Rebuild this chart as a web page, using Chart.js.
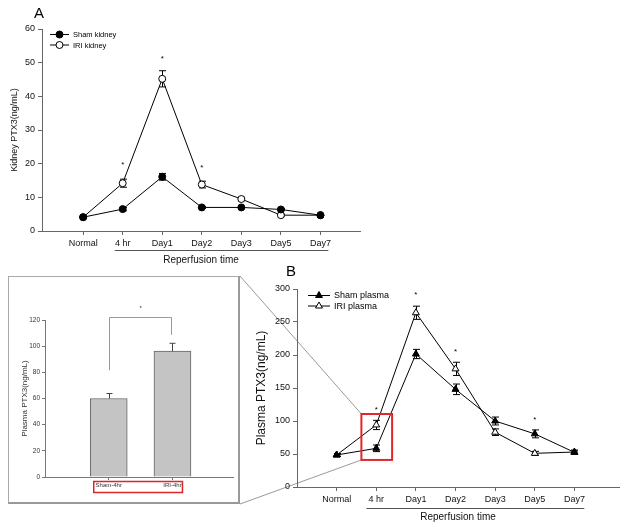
<!DOCTYPE html>
<html lang="en">
<head>
  <meta charset="UTF-8" />
  <title>PTX3 kidney / plasma</title>
  <script src="https://cdn.jsdelivr.net/npm/chart.js"></script>
  <style>
    body {
      margin: 0;
      background: #fff;
      font-family: "Liberation Sans", Arial, sans-serif;
    }
    #page {
      position: relative;
      width: 624px;
      height: 527px;
      overflow: hidden;
    }
    canvas, .box, .lbl { position: absolute; }
    #chartA { left: 0; top: 0; }
    #chartB { left: 240px; top: 258px; }
    #inset { left: 8px; top: 276px; }
    .box {
      left: 8px; top: 276px;
      width: 232px; height: 228px;
      box-sizing: border-box;
      border: 1px solid #aaa;
      border-right: 2px solid #999;
      border-bottom: 2px solid #999;
    }
    .lbl { font-size: 15px; color: #000; }
  </style>
</head>
<body>
<div id="page">
  <div class="box"></div>
  <canvas id="inset" width="232" height="228"></canvas>
  <canvas id="chartA" width="370" height="270"></canvas>
  <canvas id="chartB" width="384" height="269"></canvas>
  <div class="lbl" style="left:34px; top:4px;">A</div>
  <div class="lbl" style="left:286px; top:262px;">B</div>
</div>

<script>
  // ---- data ----
  const categories = ['Normal', '4 hr', 'Day1', 'Day2', 'Day3', 'Day5', 'Day7'];

  const shamKidney    = [4.1, 6.5, 16.1, 7.0, 7.0, 6.4, 4.7];
  const shamKidneyErr = [0.3, 0.5, 1.0, 0.3, 0.3, 0.3, 0.3];
  const iriKidney     = [4.1, 14.2, 45.2, 13.8, 9.5, 4.7, 4.7];
  const iriKidneyErr  = [0.3, 1.2, 2.4, 1.0, 0.5, 0.3, 0.5];
  const kidneyStarIdx = [1, 2, 3];
  const kidneyStarVal = [20, 51.7, 19.3];

  const shamPlasma    = [48.5, 58.6, 201.5, 148, 100, 80.5, 52.5];
  const shamPlasmaErr = [2, 5, 7, 8, 6, 6, 2];
  const iriPlasma     = [48.5, 94, 264, 179, 83, 51, 53];
  const iriPlasmaErr  = [2, 7, 10, 10, 5, 3, 3];
  const plasmaStarIdx = [1, 2, 3, 5];
  const plasmaStarVal = [119, 294, 207, 104];

  const insetLabels = ['Sham-4hr', 'IRI-4hr'];
  const insetValues = [60, 96.2];
  const insetErr    = [3.8, 6];
  const insetBracket = { top: 122, left: 81.6, right: 108.7, star: 129.6 };

  const axisColor = '#666';
  const FONT = '"Liberation Sans", Arial, sans-serif';

  const toXY = arr => arr.map((v, i) => ({ x: i, y: v }));

  // ---- plugins ----
  const errorBars = {
    id: 'errorBars',
    beforeDatasetsDraw(chart) { drawErrors(chart, false); },
    afterDatasetsDraw(chart) { drawErrors(chart, true); }
  };
  function drawErrors(chart, after) {
    const ctx = chart.ctx, ys = chart.scales.y;
    chart.data.datasets.forEach((ds, di) => {
      if (!ds.errors || !!ds.errorsOnTop !== after) return;
      const meta = chart.getDatasetMeta(di);
      ctx.save();
      ctx.strokeStyle = ds.errorColor || '#000';
      ctx.lineWidth = 1;
      meta.data.forEach((el, i) => {
        const v = ds.data[i].y, e = ds.errors[i];
        const yt = ys.getPixelForValue(v + e);
        const yb = ds.errorsOnTop ? ys.getPixelForValue(v) : ys.getPixelForValue(v - e);
        const x = Math.round(el.x) + 0.5, cap = ds.capWidth || 3.5;
        ctx.beginPath();
        ctx.moveTo(x, yt); ctx.lineTo(x, yb);
        ctx.moveTo(x - cap, yt); ctx.lineTo(x + cap, yt);
        if (!ds.errorsOnTop) { ctx.moveTo(x - cap, yb); ctx.lineTo(x + cap, yb); }
        ctx.stroke();
      });
      ctx.restore();
    });
  }

  function drawLegend(chart, x0, y0, dy, lineLen, fontSize) {
    const ctx = chart.ctx;
    ctx.save();
    chart.data.datasets.forEach((ds, i) => {
      const y = y0 + i * dy;
      ctx.strokeStyle = '#000'; ctx.lineWidth = 1;
      ctx.beginPath(); ctx.moveTo(x0, y + 0.5); ctx.lineTo(x0 + lineLen, y + 0.5); ctx.stroke();
      ctx.fillStyle = ds.pointBackgroundColor; ctx.strokeStyle = '#000';
      Chart.helpers.drawPoint(ctx, { pointStyle: ds.pointStyle, radius: ds.pointRadius, borderWidth: 1, rotation: 0 },
        x0 + lineLen / 2, y + 0.5);
      ctx.fillStyle = '#000';
      ctx.font = fontSize + 'px ' + FONT;
      ctx.textBaseline = 'middle';
      ctx.fillText(ds.label, x0 + lineLen + 4, y + 1);
    });
    ctx.restore();
  }

  function drawStars(chart, idx, vals, size) {
    const ctx = chart.ctx, xs = chart.scales.x, ys = chart.scales.y;
    ctx.save();
    ctx.fillStyle = '#000';
    ctx.font = size + 'px ' + FONT;
    ctx.textAlign = 'center';
    ctx.textBaseline = 'middle';
    idx.forEach((k, i) => ctx.fillText('*', xs.getPixelForValue(k), ys.getPixelForValue(vals[i]) + size * 0.2));
    ctx.restore();
  }

  function drawUnderline(chart, from, to, gap) {
    const ctx = chart.ctx, xs = chart.scales.x;
    const y = Math.round(chart.chartArea.bottom + gap) + 0.5;
    ctx.save();
    ctx.strokeStyle = '#555'; ctx.lineWidth = 1;
    ctx.beginPath();
    ctx.moveTo(xs.getPixelForValue(from), y);
    ctx.lineTo(xs.getPixelForValue(to), y);
    ctx.stroke();
    ctx.restore();
  }

  function lineDataset(label, values, errors, style, fill, radius) {
    return {
      label: label,
      data: toXY(values),
      errors: errors,
      borderColor: '#000',
      borderWidth: 1,
      pointStyle: style,
      pointRadius: radius,
      pointBorderWidth: 1,
      pointBorderColor: '#000',
      pointBackgroundColor: fill,
      tension: 0
    };
  }

  function catAxis(min, max, h) {
    return {
      type: 'linear', min: min, max: max,
      afterBuildTicks: a => { a.ticks = categories.map((c, i) => ({ value: i })); },
      afterFit: a => { a.height = h; },
      ticks: {
        autoSkip: false, maxRotation: 0, padding: 3,
        color: '#111', font: { family: FONT, size: 9 },
        callback: v => categories[v]
      },
      grid: { display: true, drawOnChartArea: false, drawTicks: true, tickLength: 4, color: axisColor },
      border: { display: true, color: axisColor },
      title: { display: true, text: 'Reperfusion time', color: '#111', font: { family: FONT, size: 10 }, padding: { top: 4, bottom: 4 } }
    };
  }

  function valAxis(min, max, step, w, title, titleSize, titlePad) {
    return {
      min: min, max: max,
      afterFit: a => { a.width = w; },
      ticks: { stepSize: step, padding: 3, color: '#111', font: { family: FONT, size: 9 } },
      grid: { display: true, drawOnChartArea: false, drawTicks: true, tickLength: 4, color: axisColor },
      border: { display: true, color: axisColor },
      title: { display: true, text: title, color: '#111', font: { family: FONT, size: titleSize }, padding: { top: titlePad, bottom: 0 } }
    };
  }

  // ---- chart A: kidney ----
  new Chart(document.getElementById('chartA'), {
    type: 'line',
    data: {
      datasets: [
        lineDataset('Sham kidney', shamKidney, shamKidneyErr, 'circle', '#000', 3.5),
        lineDataset('IRI kidney', iriKidney, iriKidneyErr, 'circle', '#fff', 3.5)
      ]
    },
    options: {
      responsive: false,
      animation: false,
      layout: { padding: { top: 29, right: 10, left: 0, bottom: 0 } },
      plugins: { legend: { display: false }, tooltip: { enabled: false } },
      scales: {
        x: catAxis(-1.04, 7.0, 39),
        y: valAxis(0, 60, 10, 42, 'Kidney PTX3(ng/mL)', 9, 9)
      }
    },
    plugins: [errorBars, {
      id: 'extrasA',
      afterDraw(chart) {
        drawLegend(chart, 50, 34, 10.5, 19, 7.5);
        drawStars(chart, kidneyStarIdx, kidneyStarVal, 8);
        drawUnderline(chart, 0.8, 6.2, 19);
      }
    }]
  });

  // ---- chart B: plasma ----
  const insetTop = 276, insetBottom = 504, chartBTop = 258;
  new Chart(document.getElementById('chartB'), {
    type: 'line',
    data: {
      datasets: [
        lineDataset('Sham plasma', shamPlasma, shamPlasmaErr, 'triangle', '#000', 4),
        lineDataset('IRI plasma', iriPlasma, iriPlasmaErr, 'triangle', '#fff', 4)
      ]
    },
    options: {
      responsive: false,
      animation: false,
      layout: { padding: { top: 31, right: 2, left: 0, bottom: 0 } },
      plugins: { legend: { display: false }, tooltip: { enabled: false } },
      scales: {
        x: catAxis(-1, 7.125, 40),
        y: valAxis(0, 300, 50, 57, 'Plasma PTX3(ng/mL)', 12, 14)
      }
    },
    plugins: [errorBars, {
      id: 'extrasB',
      beforeDraw(chart) {
        // zoom lines from the inset box to the red frame
        const ctx = chart.ctx, xs = chart.scales.x, ys = chart.scales.y;
        const bx = xs.getPixelForValue(0.625);
        ctx.save();
        ctx.strokeStyle = '#9a9a9a'; ctx.lineWidth = 1;
        ctx.beginPath();
        ctx.moveTo(0, insetTop - chartBTop); ctx.lineTo(bx, ys.getPixelForValue(110.6));
        ctx.moveTo(0, insetBottom - chartBTop); ctx.lineTo(bx, ys.getPixelForValue(41));
        ctx.stroke();
        ctx.restore();
      },
      afterDraw(chart) {
        const ctx = chart.ctx, xs = chart.scales.x, ys = chart.scales.y;
        const x1 = xs.getPixelForValue(0.625), x2 = xs.getPixelForValue(1.4);
        const y1 = ys.getPixelForValue(110.6), y2 = ys.getPixelForValue(41);
        ctx.save();
        ctx.strokeStyle = '#e0282c'; ctx.lineWidth = 2;
        ctx.strokeRect(x1, y1, x2 - x1, y2 - y1);
        ctx.restore();
        drawLegend(chart, 68, 37, 10.5, 22, 9);
        drawStars(chart, plasmaStarIdx, plasmaStarVal, 8);
        drawUnderline(chart, 0.75, 6.25, 21);
      }
    }]
  });

  // ---- inset: 4 hr plasma bars ----
  new Chart(document.getElementById('inset'), {
    type: 'bar',
    data: {
      datasets: [{
        data: insetValues.map((v, i) => ({ x: i + 1, y: v })),
        errors: insetErr,
        errorsOnTop: true,
        errorColor: '#444',
        capWidth: 3,
        backgroundColor: '#c4c4c4',
        borderColor: '#666',
        borderWidth: 1,
        barThickness: 37
      }]
    },
    options: {
      responsive: false,
      animation: false,
      layout: { padding: { top: 44, right: 7, left: 0, bottom: 0 } },
      plugins: { legend: { display: false }, tooltip: { enabled: false } },
      scales: {
        x: {
          type: 'linear', min: 0, max: 2.95, offset: false,
          afterBuildTicks: a => { a.ticks = insetLabels.map((c, i) => ({ value: i + 1 })); },
          afterFit: a => { a.height = 27; },
          ticks: { autoSkip: false, maxRotation: 0, padding: 2, color: '#333', font: { family: FONT, size: 6 },
                   callback: v => insetLabels[v - 1] },
          grid: { display: true, offset: false, drawOnChartArea: false, drawTicks: true, tickLength: 3, color: '#777' },
          border: { display: true, color: '#777' }
        },
        y: {
          min: 0, max: 120,
          afterFit: a => { a.width = 37; },
          ticks: { stepSize: 20, padding: 2, color: '#333', font: { family: FONT, size: 6.5 } },
          grid: { display: true, drawOnChartArea: false, drawTicks: true, tickLength: 3, color: '#777' },
          border: { display: true, color: '#777' },
          title: { display: true, text: 'Plasma PTX3(ng/mL)', color: '#333', font: { family: FONT, size: 8 }, padding: { top: 12, bottom: 0 } }
        }
      }
    },
    plugins: [errorBars, {
      id: 'extrasInset',
      afterDraw(chart) {
        const ctx = chart.ctx, xs = chart.scales.x, ys = chart.scales.y;
        const xl = Math.round(xs.getPixelForValue(1)) + 0.5, xr = Math.round(xs.getPixelForValue(2)) - 0.5;
        const yt = Math.round(ys.getPixelForValue(insetBracket.top)) + 0.5;
        ctx.save();
        ctx.strokeStyle = '#999'; ctx.lineWidth = 1;
        ctx.beginPath();
        ctx.moveTo(xl, ys.getPixelForValue(insetBracket.left)); ctx.lineTo(xl, yt);
        ctx.lineTo(xr, yt); ctx.lineTo(xr, ys.getPixelForValue(insetBracket.right));
        ctx.stroke();
        ctx.fillStyle = '#333';
        ctx.font = '6px ' + FONT;
        ctx.textAlign = 'center'; ctx.textBaseline = 'middle';
        ctx.fillText('*', xs.getPixelForValue(1.5), ys.getPixelForValue(insetBracket.star) + 1);
        // red frame round the category labels
        const bottom = chart.chartArea.bottom;
        ctx.strokeStyle = '#d8262c'; ctx.lineWidth = 1.5;
        ctx.strokeRect(xs.getPixelForValue(1) - 15, bottom + 4.5, xs.getPixelForValue(2) - xs.getPixelForValue(1) + 25, 11);
        ctx.restore();
      }
    }]
  });
</script>
</body>
</html>
